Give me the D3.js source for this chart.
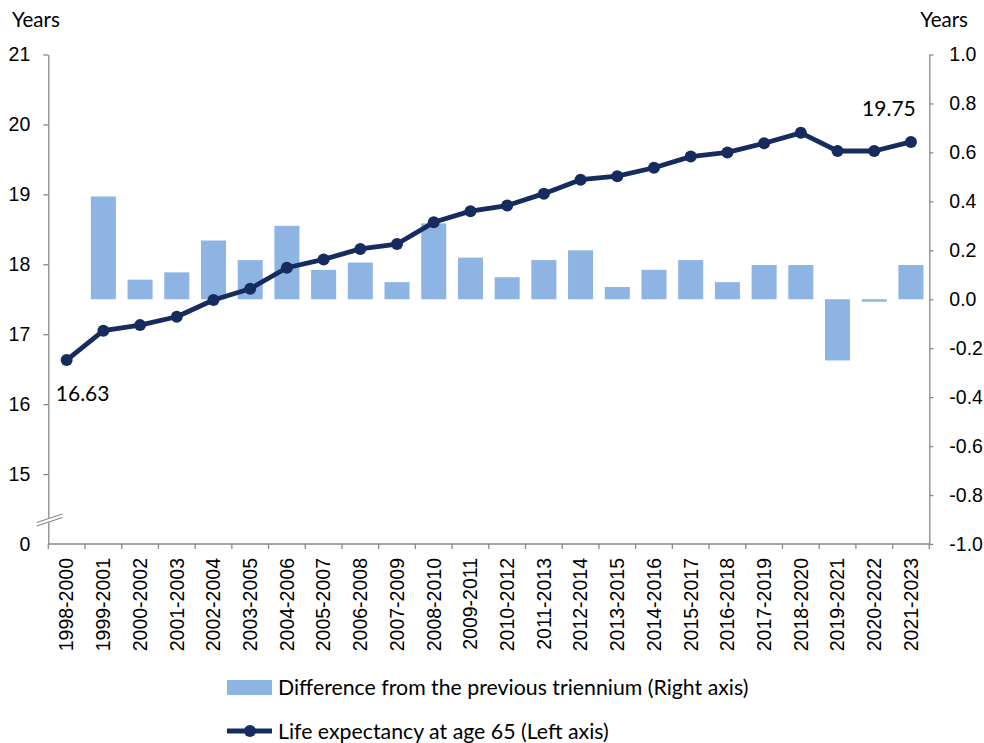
<!DOCTYPE html>
<html>
<head>
<meta charset="utf-8">
<script src="https://cdn.jsdelivr.net/npm/d3@7"></script>
<style>
body { margin: 0; background: #fff; }
svg { display: block; font-family: Lato, "Open Sans", sans-serif; }
.axis path, .axis line { stroke: #898989; stroke-width: 1.3; }
.axis text { fill: #000; font-size: 19.5px; }
</style>
</head>
<body>
<div id="chart"></div>
<script>
// triennium categories
var periods = ["1998-2000", "1999-2001", "2000-2002", "2001-2003", "2002-2004", "2003-2005",
  "2004-2006", "2005-2007", "2006-2008", "2007-2009", "2008-2010", "2009-2011",
  "2010-2012", "2011-2013", "2012-2014", "2013-2015", "2014-2016", "2015-2017",
  "2016-2018", "2017-2019", "2018-2020", "2019-2021", "2020-2022", "2021-2023"];
// life expectancy at 65 (left axis)
var lifeExp = [16.63, 17.05, 17.13, 17.25, 17.49, 17.65, 17.95, 18.07, 18.22, 18.29, 18.60, 18.76,
  18.84, 19.01, 19.21, 19.26, 19.38, 19.54, 19.60, 19.73, 19.88, 19.62, 19.62, 19.75];
// difference from previous triennium (right axis)
var diffPrev = [null, 0.42, 0.08, 0.11, 0.24, 0.16, 0.30, 0.12, 0.15, 0.07, 0.31, 0.17,
  0.09, 0.16, 0.20, 0.05, 0.12, 0.16, 0.07, 0.14, 0.14, -0.25, -0.01, 0.14];
// left axis is broken: 14 on the scale is labelled 0
var leftTicks = [14, 15, 16, 17, 18, 19, 20, 21];
var leftTickLabels = ["0", "15", "16", "17", "18", "19", "20", "21"];
var rightTicks = [-1, -0.8, -0.6, -0.4, -0.2, 0, 0.2, 0.4, 0.6, 0.8, 1];
var barLabel = "Difference from the previous triennium (Right axis)";
var lineLabel = "Life expectancy at age 65 (Left axis)";

var W = 984, H = 743;
var pLeft = 48.3, pRight = 929.3, pTop = 54.5, pBottom = 544;
var barColor = "#8eb4e3", lineColor = "#172c5e";

var svg = d3.select("#chart").append("svg").attr("width", W).attr("height", H);

var x = d3.scaleBand().domain(periods).range([pLeft, pRight]).paddingInner(0.318).paddingOuter(0.159);
var yL = d3.scaleLinear().domain([14, 21]).range([pBottom, pTop]);
var yR = d3.scaleLinear().domain([-1, 1]).range([pBottom, pTop]);

var data = periods.map(function(p, i) { return {p: p, life: lifeExp[i], diff: diffPrev[i]}; });

// bars
svg.append("g").selectAll("rect")
  .data(data.filter(function(d) { return d.diff != null; }))
  .enter().append("rect")
  .attr("x", function(d) { return x(d.p); })
  .attr("width", x.bandwidth())
  .attr("y", function(d) { return yR(Math.max(0, d.diff)); })
  .attr("height", function(d) { return Math.abs(yR(d.diff) - yR(0)); })
  .attr("fill", barColor);

// axes
var gL = svg.append("g").attr("class", "axis").attr("transform", "translate(" + pLeft + ",0)")
  .call(d3.axisLeft(yL).tickValues(leftTicks)
    .tickFormat(function(d, i) { return leftTickLabels[i]; })
    .tickSize(5).tickSizeOuter(0).tickPadding(13));
gL.selectAll(".tick").filter(function(d) { return d === 14; }).select("line").remove();

svg.append("g").attr("class", "axis").attr("transform", "translate(" + pRight + ",0)")
  .call(d3.axisRight(yR).tickValues(rightTicks)
    .tickFormat(function(d) { return d.toFixed(1); })
    .tickSize(4).tickSizeOuter(0).tickPadding(16));

var gX = svg.append("g").attr("class", "axis").attr("transform", "translate(0," + pBottom + ")")
  .call(d3.axisBottom(x).tickSize(0).tickSizeOuter(0));
gX.select(".domain").attr("d", "M" + pLeft + ",0H" + pRight);
gX.selectAll(".tick text")
  .attr("transform", "rotate(-90)")
  .attr("text-anchor", "end")
  .attr("x", -14).attr("y", 0).attr("dy", "0.35em");
// ticks between categories
var edges = periods.map(function(p) { return x(p) - x.step() * x.paddingInner() / 2; });
edges.push(pRight);
gX.selectAll(".edge").data(edges).enter().append("line")
  .attr("class", "edge")
  .attr("x1", function(d) { return d; }).attr("x2", function(d) { return d; })
  .attr("y1", 0).attr("y2", 5);

// axis break marks
var by = yL(14.35);
var brk = svg.append("g");
brk.append("path")
  .attr("d", "M" + (pLeft - 11.5) + "," + (by + 3) + "L" + (pLeft + 14) + "," + (by - 5.5) +
    "L" + (pLeft + 14) + "," + (by - 2) + "L" + (pLeft - 11.5) + "," + (by + 6.5) + "Z")
  .attr("fill", "#fff");
[0, 3.5].forEach(function(o) {
  brk.append("line")
    .attr("x1", pLeft - 11.5).attr("y1", by + 3 + o)
    .attr("x2", pLeft + 14).attr("y2", by - 5.5 + o)
    .attr("stroke", "#898989").attr("stroke-width", 1.2);
});

// line + markers
var line = d3.line()
  .x(function(d) { return x(d.p) + x.bandwidth() / 2; })
  .y(function(d) { return yL(d.life); });
svg.append("path").datum(data)
  .attr("d", line).attr("fill", "none")
  .attr("stroke", lineColor).attr("stroke-width", 4.8).attr("stroke-linejoin", "round");
svg.append("g").selectAll("circle").data(data).enter().append("circle")
  .attr("cx", function(d) { return x(d.p) + x.bandwidth() / 2; })
  .attr("cy", function(d) { return yL(d.life); })
  .attr("r", 6).attr("fill", lineColor);

// end labels
var first = data[0], last = data[data.length - 1];
svg.append("text")
  .attr("x", x(first.p) + x.bandwidth() / 2 + 16).attr("y", yL(first.life) + 41)
  .attr("text-anchor", "middle").style("font-size", "21px").text(first.life.toFixed(2));
svg.append("text")
  .attr("x", x(last.p) + x.bandwidth() / 2 - 22).attr("y", yL(last.life) - 26)
  .attr("text-anchor", "middle").style("font-size", "21px").text(last.life.toFixed(2));

// axis titles
svg.append("text").attr("x", 12).attr("y", 27).style("font-size", "20.5px").text("Years");
svg.append("text").attr("x", 968).attr("y", 27).attr("text-anchor", "end").style("font-size", "20.5px").text("Years");

// legend
var lg = svg.append("g");
lg.append("rect").attr("x", 227).attr("y", 680).attr("width", 45).attr("height", 15).attr("fill", barColor);
lg.append("text").attr("x", 278).attr("y", 695).style("font-size", "21.3px").text(barLabel);
lg.append("line").attr("x1", 227).attr("x2", 272).attr("y1", 731).attr("y2", 731)
  .attr("stroke", lineColor).attr("stroke-width", 4.8);
lg.append("circle").attr("cx", 250).attr("cy", 731).attr("r", 6).attr("fill", lineColor);
lg.append("text").attr("x", 278).attr("y", 739).style("font-size", "21.3px").text(lineLabel);
</script>
</body>
</html>
